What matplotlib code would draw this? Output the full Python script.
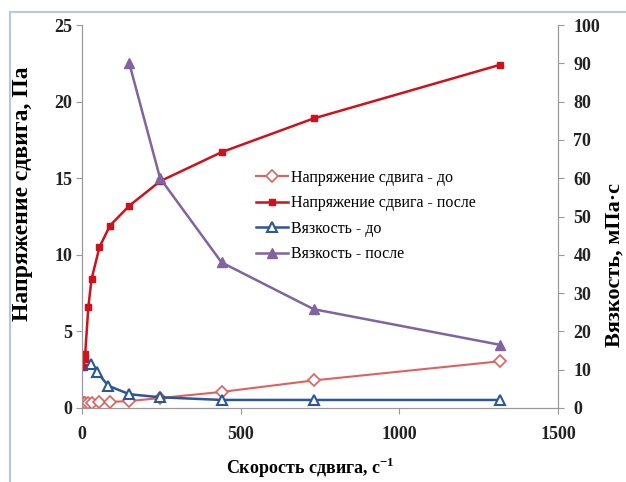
import matplotlib.pyplot as plt
from matplotlib.patches import Rectangle

# скорость сдвига, 1/с
x_do = [1, 2, 3, 5, 10, 20, 30, 55, 88, 149, 246, 440, 730, 1317]
stress_do = [0.3, 0.3, 0.3, 0.3, 0.3, 0.3, 0.35, 0.4, 0.4, 0.45, 0.65, 1.05, 1.8, 3.05]

x_posle = [5, 8, 10, 20, 30, 55, 88, 149, 246, 440, 730, 1317]
stress_posle = [2.7, 3.2, 3.5, 6.6, 8.4, 10.5, 11.9, 13.2, 14.8, 16.7, 18.9, 22.4]

x_visc_do = [27, 46, 83, 149, 246, 440, 730, 1317]
visc_do = [11.5, 9.5, 5.8, 3.6, 2.8, 2.1, 2.1, 2.1]

x_visc_posle = [149, 246, 440, 730, 1317]
visc_posle = [90, 60, 38, 25.8, 16.5]

labels = ["Напряжение сдвига - до", "Напряжение сдвига - после",
          "Вязкость - до", "Вязкость - после"]

plt.rcParams['font.family'] = ['Liberation Serif', 'DejaVu Serif']

fig = plt.figure(figsize=(6.26, 4.82), dpi=100)
fig.patches.append(Rectangle((10/626, -0.1), 1.2, 1 - 12/482 + 0.1, transform=fig.transFigure,
                             fill=False, edgecolor='#b8c8dc', linewidth=1.5))
ax = fig.add_axes([82/626, 1 - 408/482, 476/626, 383/482])
ax2 = ax.twinx()

l1, = ax.plot(x_do, stress_do, color='#e06060', marker='D', markersize=6,
              markerfacecolor='white', markeredgewidth=1.2, linewidth=1.5)
l2, = ax.plot(x_posle, stress_posle, color='#d0101a', marker='s', markersize=4,
              linewidth=1.8)
l3, = ax2.plot(x_visc_do, visc_do, color='#2b5797', marker='^', markersize=7,
               markerfacecolor='white', markeredgewidth=1.5, linewidth=1.8)
l4, = ax2.plot(x_visc_posle, visc_posle, color='#8064a2', marker='^', markersize=7,
               linewidth=1.8)

ax.set_xlim(0, 1500)
ax.set_ylim(0, 25)
ax2.set_ylim(0, 100)
ax.set_xticks([0, 500, 1000, 1500])
ax.set_yticks([0, 5, 10, 15, 20, 25])
ax2.set_yticks(range(0, 101, 10))

for a in (ax, ax2):
    a.spines['top'].set_visible(False)
    for s in ('left', 'right', 'bottom'):
        a.spines[s].set_color('#999999')
    a.tick_params(colors='#999999', labelcolor='#222222', length=4, labelsize=13)
    for t in a.get_xticklabels() + a.get_yticklabels():
        t.set_fontweight('bold')
ax.tick_params(axis='x', pad=9)
ax.tick_params(axis='y', pad=3)
ax2.tick_params(axis='y', pad=7)

ax.set_xlabel(r"Скорость сдвига, с$^{\mathregular{-1}}$", fontsize=13, fontweight='bold')
ax.xaxis.set_label_coords(0.479, -0.125)
ax.set_ylabel("Напряжение сдвига, Па", fontsize=17, fontweight='bold')
ax.yaxis.set_label_coords(-0.103, 0.559)
ax2.set_ylabel("Вязкость, мПа·с", fontsize=16, fontweight='bold')
ax2.yaxis.set_label_coords(1.097, 0.373)

ax.legend([l1, l2, l3, l4], labels, loc='upper left', bbox_to_anchor=(0.335, 0.66),
          frameon=False, fontsize=11.5, handlelength=2.0, labelspacing=0.6,
          handletextpad=0.2)

fig.savefig('out.png', dpi=100)
